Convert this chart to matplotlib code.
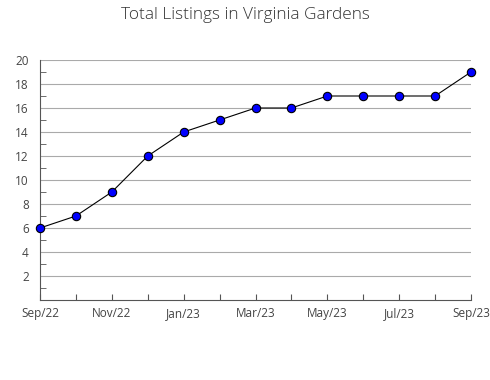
import matplotlib
matplotlib.use("Agg")
import matplotlib.pyplot as plt
from matplotlib.ticker import MultipleLocator

months = ["Sep/22", "Oct/22", "Nov/22", "Dec/22", "Jan/23", "Feb/23", "Mar/23",
          "Apr/23", "May/23", "Jun/23", "Jul/23", "Aug/23", "Sep/23"]
listings = [6, 7, 9, 12, 14, 15, 16, 16, 17, 17, 17, 17, 19]
title = "Total Listings in Virginia Gardens"

plt.rcParams['font.family'] = ['Open Sans', 'DejaVu Sans']

fig = plt.figure(figsize=(4.9, 3.8), dpi=100)
ax = fig.add_axes([40/490, 80/380, 431/490, 240/380])

x = list(range(len(months)))
ax.plot(x, listings, color="black", linewidth=0.8, marker="o", markersize=6,
        markerfacecolor="#0000ff", markeredgecolor="black", markeredgewidth=0.8,
        zorder=3, clip_on=False)

ax.set_xlim(0, len(months) - 1)
ax.set_ylim(0, 20)
ax.set_yticks(range(2, 21, 2))
ax.yaxis.set_minor_locator(MultipleLocator(1))
ax.set_xticks(x)
ax.set_xticklabels([m if i % 2 == 0 else "" for i, m in enumerate(months)])

ax.grid(axis="y", which="major", color="#aaaaaa", linewidth=0.8)
ax.set_axisbelow(True)
for s in ["top", "right"]:
    ax.spines[s].set_visible(False)
for s in ["left", "bottom"]:
    ax.spines[s].set_color("#555555")
    ax.spines[s].set_linewidth(0.8)

ax.tick_params(axis="y", which="major", length=0, labelsize=8.5, labelcolor="#444444", pad=8)
ax.tick_params(axis="y", which="minor", direction="in", length=4, color="#555555")
ax.tick_params(axis="x", direction="in", length=4, color="#555555", labelsize=8.5,
               labelcolor="#444444", pad=5)

fig.text(0.5, 1 - 15/380, title, ha="center", va="center", fontsize=12.4,
         fontweight="light", color="#333333")

fig.savefig("out.png", dpi=100)
